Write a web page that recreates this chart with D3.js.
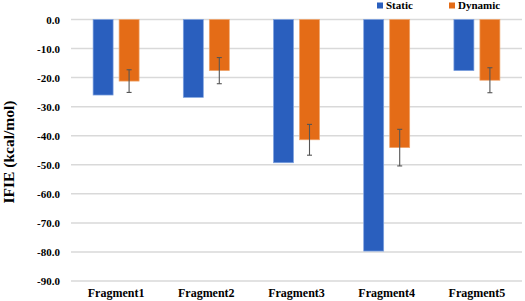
<!DOCTYPE html>
<html><head><meta charset="utf-8">
<script src="https://cdn.jsdelivr.net/npm/d3@7"></script>
<style>html,body{margin:0;padding:0;background:#fff;} text{font-family:"Liberation Serif",serif;}</style>
</head><body>
<svg id="c" width="525" height="301"></svg>
<script>
const categories = ["Fragment1","Fragment2","Fragment3","Fragment4","Fragment5"];
const staticValues = [-26.0, -26.8, -49.3, -79.7, -17.6];
const dynamicValues = [-21.2, -17.6, -41.4, -44.1, -20.9];
const dynamicErrors = [3.9, 4.5, 5.3, 6.3, 4.3];
const yTicks = [0,-10,-20,-30,-40,-50,-60,-70,-80,-90];
const seriesNames = ["Static","Dynamic"];
const colors = ["#2A5FBE","#E46C17"];

(function(){
const svg = d3.select("#c");
const mLeft = 71, mRight = 522, mTop = 19.5, mBottom = 281;
const x = d3.scaleBand().domain(categories).range([mLeft,mRight]);
const y = d3.scaleLinear().domain([0,-90]).range([mTop,mBottom]);
const font = "Liberation Serif";

svg.append("g").selectAll("line").data(yTicks).join("line")
  .attr("x1",mLeft).attr("x2",mRight)
  .attr("y1",d=>y(d)).attr("y2",d=>y(d))
  .attr("stroke","#d9d9d9").attr("stroke-width",1.5);

const yAxis = d3.axisLeft(y).tickValues(yTicks).tickFormat(d=>d3.format(".1f")(d).replace("−","-")).tickSize(0).tickPadding(0);
const ga = svg.append("g").attr("transform",`translate(60,0)`).call(yAxis);
ga.select(".domain").remove();
ga.attr("font-family",font);
ga.selectAll("text").attr("font-family",font).attr("font-weight","bold").attr("font-size",11).attr("fill","#000");

const xAxis = d3.axisBottom(x).tickSize(0).tickPadding(0);
const gx = svg.append("g").attr("transform",`translate(0,288)`).call(xAxis);
gx.select(".domain").remove();
gx.attr("font-family",font);
gx.selectAll("text").attr("font-family",font).attr("font-weight","bold").attr("font-size",12).attr("fill","#000");

const barW = 20, gap = 6;
const data = categories.map((c,i)=>({c, s:staticValues[i], d:dynamicValues[i], e:dynamicErrors[i]}));
const cx = c => x(c) + x.bandwidth()/2;
svg.append("g").selectAll("rect").data(data).join("rect")
  .attr("x",d=>cx(d.c)-gap/2-barW).attr("width",barW)
  .attr("y",y(0)).attr("height",d=>y(d.s)-y(0))
  .attr("fill",colors[0]).attr("stroke","#7fa3e0").attr("stroke-width",0.7);
svg.append("g").selectAll("rect").data(data).join("rect")
  .attr("x",d=>cx(d.c)+gap/2).attr("width",barW)
  .attr("y",y(0)).attr("height",d=>y(d.d)-y(0))
  .attr("fill",colors[1]).attr("stroke","#f0a66e").attr("stroke-width",0.7);

const eg = svg.append("g").attr("stroke","#555").attr("stroke-width",1.1);
data.forEach(d=>{
  const ex = cx(d.c)+gap/2+barW/2;
  eg.append("line").attr("x1",ex).attr("x2",ex).attr("y1",y(d.d+d.e)).attr("y2",y(d.d-d.e));
  eg.append("line").attr("x1",ex-2.5).attr("x2",ex+2.5).attr("y1",y(d.d+d.e)).attr("y2",y(d.d+d.e));
  eg.append("line").attr("x1",ex-2.5).attr("x2",ex+2.5).attr("y1",y(d.d-d.e)).attr("y2",y(d.d-d.e));
});

svg.append("text").attr("transform","translate(14,152) rotate(-90)")
  .attr("text-anchor","middle").attr("font-family",font).attr("font-weight","bold")
  .attr("font-size",15.5).attr("fill","#000").text("IFIE (kcal/mol)");

const legX = [377, 449];
seriesNames.forEach((n,i)=>{
  svg.append("rect").attr("x",legX[i]).attr("y",2.5).attr("width",6).attr("height",6).attr("fill",colors[i]);
  svg.append("text").attr("x",legX[i]+9).attr("y",8.5).attr("font-family",font).attr("font-weight","bold")
    .attr("font-size",11).attr("fill","#000").text(n);
});
})();
</script>
</body></html>
